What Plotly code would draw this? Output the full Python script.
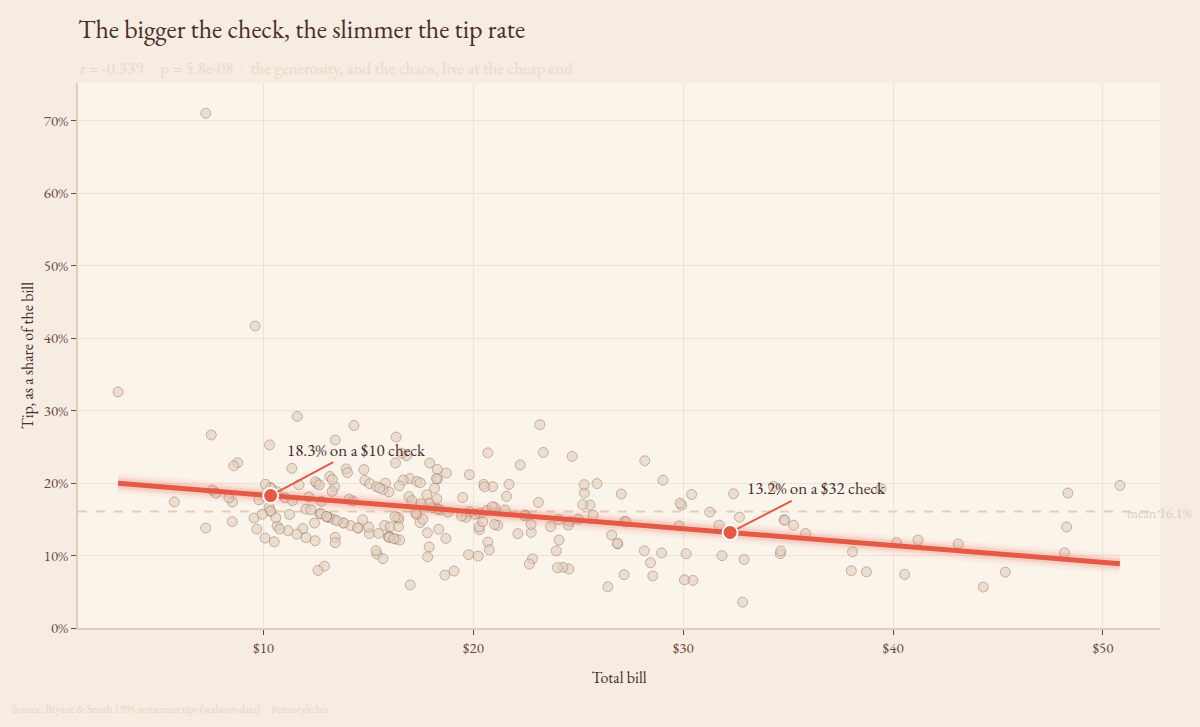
import numpy as np
import plotly.graph_objects as go

# Seaborn "tips" dataset: total bill and tip (USD)
total_bill = [16.99,10.34,21.01,23.68,24.59,25.29,8.77,26.88,15.04,14.78,10.27,35.26,15.42,18.43,14.83,21.58,10.33,16.29,16.97,20.65,
17.92,20.29,15.77,39.42,19.82,17.81,13.37,12.69,21.7,19.65,9.55,18.35,15.06,20.69,17.78,24.06,16.31,16.93,18.69,31.27,
16.04,17.46,13.94,9.68,30.4,18.29,22.23,32.4,28.55,18.04,12.54,10.29,34.81,9.94,25.56,19.49,38.01,26.41,11.24,48.27,
20.29,13.81,11.02,18.29,17.59,20.08,16.45,3.07,20.23,15.01,12.02,17.07,26.86,25.28,14.73,10.51,17.92,27.2,22.76,17.29,
19.44,16.66,10.07,32.68,15.98,34.83,13.03,18.28,24.71,21.16,28.97,22.49,5.75,16.32,22.75,40.17,27.28,12.03,21.01,12.46,
11.35,15.38,44.3,22.42,20.92,15.36,20.49,25.21,18.24,14.31,14.0,7.25,38.07,23.95,25.71,17.31,29.93,10.65,12.43,24.08,
11.69,13.42,14.26,15.95,12.48,29.8,8.52,14.52,11.38,22.82,19.08,20.27,11.17,12.26,18.26,8.51,10.33,14.15,16.0,13.16,
17.47,34.3,41.19,27.05,16.43,8.35,18.64,11.87,9.78,7.51,14.07,13.13,17.26,24.55,19.77,29.85,48.17,25.0,13.39,16.49,
21.5,12.66,16.21,13.81,17.51,24.52,20.76,31.71,10.59,10.63,50.81,15.81,7.25,31.85,16.82,32.9,17.89,14.48,9.6,34.63,
34.65,23.33,45.35,23.17,40.55,20.69,20.9,30.46,18.15,23.1,15.69,19.81,28.44,15.48,16.58,7.56,10.34,43.11,13.0,13.51,
18.71,12.74,13.0,16.4,20.53,16.47,26.59,38.73,24.27,12.76,30.06,25.89,48.33,13.27,28.17,12.9,28.15,11.59,7.74,30.14,
12.16,13.42,8.58,15.98,13.42,16.27,10.09,20.45,13.28,22.12,24.01,15.69,11.61,10.77,15.53,10.07,12.6,32.83,35.83,29.03,
27.18,22.67,17.82,18.78]
tip = [1.01,1.66,3.5,3.31,3.61,4.71,2.0,3.12,1.96,3.23,1.71,5.0,1.57,3.0,3.02,3.92,1.67,3.71,3.5,3.35,
4.08,2.75,2.23,7.58,3.18,2.34,2.0,2.0,4.3,3.0,1.45,2.5,3.0,2.45,3.27,3.6,2.0,3.07,2.31,5.0,
2.24,2.54,3.06,1.32,5.6,3.0,5.0,6.0,2.05,3.0,2.5,2.6,5.2,1.56,4.34,3.51,3.0,1.5,1.76,6.73,
3.21,2.0,1.98,3.76,2.64,3.15,2.47,1.0,2.01,2.09,1.97,3.0,3.14,5.0,2.2,1.25,3.08,4.0,3.0,2.71,
3.0,3.4,1.83,5.0,2.03,5.17,2.0,4.0,5.85,3.0,3.0,3.5,1.0,4.3,3.25,4.73,4.0,1.5,3.0,1.5,
2.5,3.0,2.5,3.48,4.08,1.64,4.06,4.29,3.76,4.0,3.0,1.0,4.0,2.55,4.0,3.5,5.07,1.5,1.8,2.92,
2.31,1.68,2.5,2.0,2.52,4.2,1.48,2.0,2.0,2.18,1.5,2.83,1.5,2.0,3.25,1.25,2.0,2.0,2.0,2.75,
3.5,6.7,5.0,5.0,2.3,1.5,1.36,1.63,1.73,2.0,2.5,2.0,2.74,2.0,2.0,5.14,5.0,3.75,2.61,2.0,
3.5,2.5,2.0,2.0,3.0,3.48,2.24,4.5,1.61,2.0,10.0,3.16,5.15,3.18,4.0,3.11,2.0,2.0,4.0,3.55,
3.68,5.65,3.5,6.5,3.0,5.0,3.5,2.0,3.5,4.0,1.5,4.19,2.56,2.02,4.0,1.44,2.0,5.0,2.0,2.0,
4.0,2.01,2.0,2.5,4.0,3.23,3.41,3.0,2.03,2.23,2.0,5.16,9.0,2.5,6.5,1.1,3.0,1.5,1.44,3.09,
2.2,3.48,1.92,3.0,1.58,2.5,2.0,3.0,2.72,2.88,2.0,3.0,3.39,1.47,3.0,1.25,1.0,1.17,4.67,5.92,
2.0,2.0,1.75,3.0]

x_ticks = [10, 20, 30, 40, 50]
x_tick_labels = ["$10", "$20", "$30", "$40", "$50"]
y_ticks = [0, 0.1, 0.2, 0.3, 0.4, 0.5, 0.6, 0.7]
y_tick_labels = ["0%", "10%", "20%", "30%", "40%", "50%", "60%", "70%"]

TITLE = "The bigger the check, the slimmer the tip rate"
SUBTITLE = "r = -0.339  ·  p = 5.8e-08  ·  the generosity, and the chaos, live at the cheap end"
SOURCE = "Source: Bryant &amp; Smith 1995 restaurant tips (seaborn-data)  ·  #cinestyle:her"

bill = np.array(total_bill)
share = np.array(tip) / bill
slope, intercept = np.polyfit(bill, share, 1)
mean_share = share.mean()
fit_x = np.array([bill.min(), bill.max()])
fit_y = intercept + slope * fit_x
mark_x = np.array([np.percentile(bill, 10), np.percentile(bill, 90)])
mark_y = intercept + slope * mark_x

FONT = "EB Garamond, Liberation Serif, serif"
RED = "#E45A45"
DARK = "#4A2C2A"
TICK = "#6A4742"

fig = go.Figure()
fig.add_trace(go.Scatter(
    x=bill, y=share, mode="markers",
    marker=dict(size=10, color="rgba(226,206,188,0.6)",
                line=dict(color="rgba(140,105,90,0.45)", width=1)),
    hoverinfo="skip", showlegend=False))
# glow under the fit line
for w, a in [(20, 0.05), (14, 0.08), (10, 0.12)]:
    fig.add_trace(go.Scatter(x=fit_x, y=fit_y, mode="lines",
                             line=dict(color=f"rgba(228,90,69,{a})", width=w),
                             hoverinfo="skip", showlegend=False))
fig.add_trace(go.Scatter(x=fit_x, y=fit_y, mode="lines",
                         line=dict(color=RED, width=5), hoverinfo="skip", showlegend=False))
fig.add_trace(go.Scatter(x=mark_x, y=mark_y, mode="markers",
                         marker=dict(size=15, color=RED, line=dict(color="white", width=2)),
                         hoverinfo="skip", showlegend=False))

fig.add_shape(type="line", xref="paper", x0=0, x1=1, yref="y", y0=mean_share, y1=mean_share,
              line=dict(color="#E8CDB3", width=2, dash="dash"), layer="below")

annots = [
    dict(xref="paper", yref="paper", x=0, y=1.0, xanchor="left", yanchor="bottom",
         text=SUBTITLE, showarrow=False, yshift=2, font=dict(family=FONT, size=17, color="#EBD9C8")),
    dict(xref="paper", yref="y", x=0.9677, y=mean_share, xanchor="left", yanchor="middle",
         text=f"mean {mean_share*100:.1f}%", showarrow=False, yshift=-2,
         font=dict(family=FONT, size=14, color="#E3CDB8")),
]
offsets = [(86, -46), (86, -44)]
for (mx, my), (ax, ay) in zip(zip(mark_x, mark_y), offsets):
    annots.append(dict(x=mx, y=my, xref="x", yref="y",
                       text=f"{my*100:.1f}% on a ${mx:.0f} check",
                       showarrow=True, arrowhead=0, arrowwidth=2, arrowcolor=RED,
                       ax=ax, ay=ay, standoff=8,
                       font=dict(family=FONT, size=17, color=DARK)))
annots.append(dict(xref="paper", yref="paper", x=-0.0628, y=-0.149, xanchor="left", yanchor="middle",
                   text=SOURCE, showarrow=False,
                   font=dict(family=FONT, size=11, color="#E8D5C2")))

fig.update_layout(
    width=1200, height=727,
    margin=dict(l=78, r=40, t=83, b=99),
    paper_bgcolor="#F6ECE1", plot_bgcolor="#FBF4EB",
    font=dict(family=FONT, color=TICK, size=15),
    title=dict(text=TITLE, x=78/1200, xanchor="left", y=0.96, yanchor="middle",
               font=dict(family=FONT, size=26, color=DARK)),
    annotations=annots,
    showlegend=False,
)
fig.update_xaxes(range=[1.16, 52.72], tickvals=x_ticks, ticktext=x_tick_labels,
                 showgrid=True, gridcolor="#F0E3D5", gridwidth=1, zeroline=False,
                 showline=True, linecolor="#E3CDB8", linewidth=2,
                 ticks="outside", ticklen=5, tickcolor=TICK, tickfont=dict(size=15, color=TICK),
                 title=dict(text="Total bill", font=dict(size=16, color=DARK), standoff=16))
fig.update_yaxes(range=[0, 0.752], tickvals=y_ticks, ticktext=y_tick_labels,
                 showgrid=True, gridcolor="#F0E3D5", gridwidth=1, zeroline=False,
                 showline=True, linecolor="#E3CDB8", linewidth=2,
                 ticks="outside", ticklen=5, tickcolor=TICK, tickfont=dict(size=15, color=TICK),
                 title=dict(text="Tip, as a share of the bill", font=dict(size=16, color=DARK), standoff=6))

fig.write_html("out.html")
